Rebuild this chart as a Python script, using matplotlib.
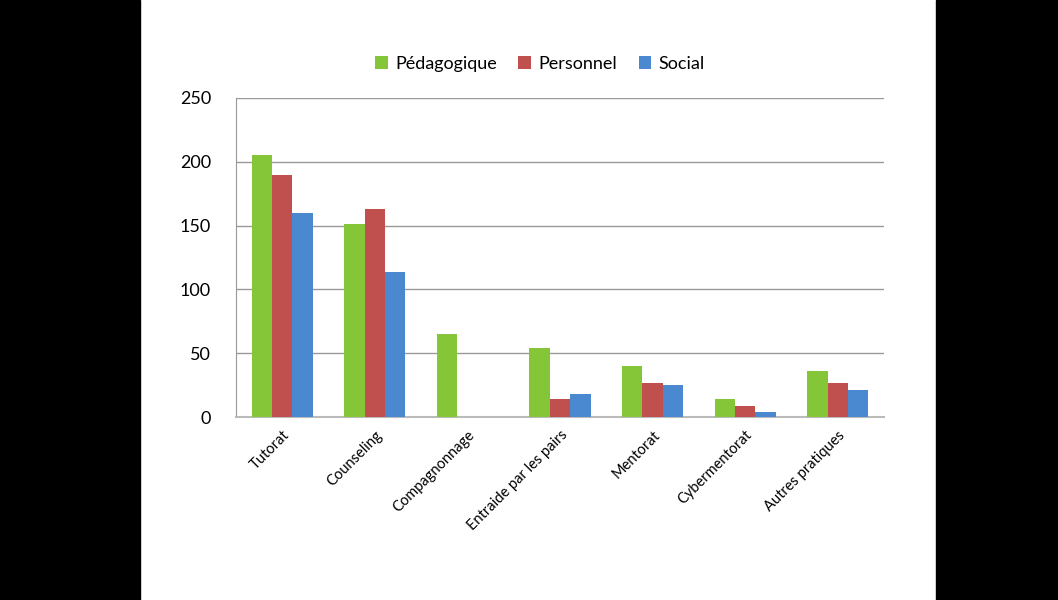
import numpy as np
import matplotlib.pyplot as plt
from matplotlib.patches import Rectangle

categories = ['Tutorat', 'Counseling', 'Compagnonnage', 'Entraide par les pairs',
              'Mentorat', 'Cybermentorat', 'Autres pratiques']
series_names = ['Pédagogique', 'Personnel', 'Social']
pedagogique = [205, 151, 65, 54, 40, 14, 36]
personnel = [190, 163, 0, 14, 27, 9, 27]
social = [160, 114, 0, 18, 25, 4, 21]
colors = ['#84C637', '#C0504D', '#4A88D0']

plt.rcParams['font.family'] = ['Lato', 'DejaVu Sans']

fig = plt.figure(figsize=(10.58, 6), dpi=100)
# black side bands
fig.patches.append(Rectangle((0, 0), 140 / 1058, 1, transform=fig.transFigure,
                             color='black', zorder=-1))
fig.patches.append(Rectangle((936 / 1058, 0), 122 / 1058, 1, transform=fig.transFigure,
                             color='black', zorder=-1))

ax = fig.add_axes([236 / 1058, 1 - 417 / 600, 648 / 1058, 319 / 600])

x = np.arange(len(categories))
w = 0.22
for i, (vals, name) in enumerate(zip([pedagogique, personnel, social], series_names)):
    ax.bar(x + (i - 1) * w, vals, w, color=colors[i], label=name, zorder=3)

ax.set_xlim(-0.5, len(categories) - 0.5)
ax.set_ylim(0, 250)
ax.set_yticks(range(0, 251, 50))
ax.grid(axis='y', color='#999999', linewidth=1, zorder=0)
ax.set_xticks(x)
ax.set_xticklabels(categories, rotation=45, ha='right', rotation_mode='anchor', fontsize=10.5)
ax.tick_params(axis='y', length=0, labelsize=13, pad=18)
ax.tick_params(axis='x', length=0, pad=8)
for s in ['top', 'right']:
    ax.spines[s].set_visible(False)
ax.spines['left'].set_color('#999999')
ax.spines['bottom'].set_color('#BBBBBB')
ax.spines['bottom'].set_linewidth(1.5)

ax.legend(loc='center', bbox_to_anchor=(540 / 1058, 1 - 64 / 600), bbox_transform=fig.transFigure,
          ncol=3, frameon=False, fontsize=13, handlelength=0.7, handleheight=0.7,
          handletextpad=0.4, columnspacing=1.2)

fig.savefig('out.png', dpi=100, facecolor='white')
